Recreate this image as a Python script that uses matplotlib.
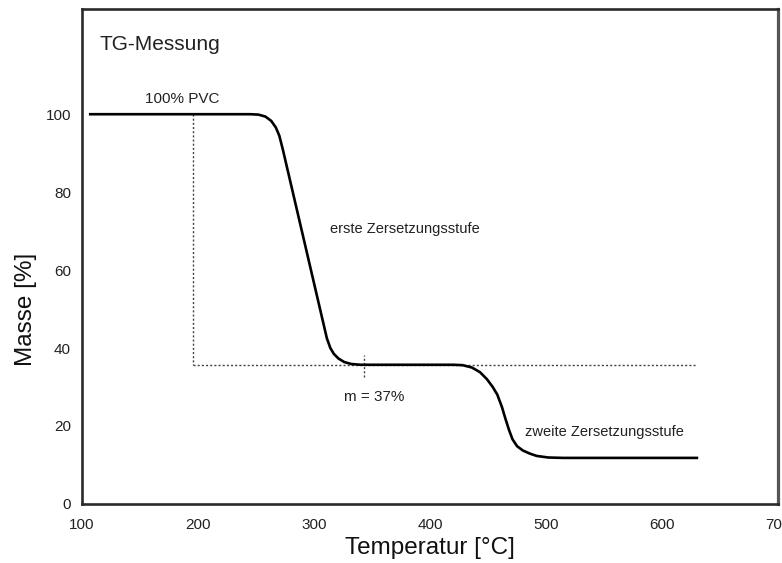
import matplotlib
matplotlib.use('Agg')
import matplotlib.pyplot as plt
from matplotlib import font_manager

# TG curve of PVC
temperatur = [107, 245, 252, 258, 263, 267, 270, 273, 311, 314, 317, 321, 326, 332, 340,
              420, 428, 436, 443, 449, 454, 458, 462, 465, 468, 471, 475, 480, 486, 492, 502, 515, 630]
masse = [100, 100, 99.9, 99.4, 98.3, 96.6, 94.5, 91.0, 42.5, 40.0, 38.5, 37.3, 36.4, 35.9, 35.7,
         35.7, 35.6, 35.0, 33.8, 32.0, 30.0, 28.0, 24.8, 21.8, 19.0, 16.6, 14.8, 13.7, 12.9, 12.3, 11.9, 11.8, 11.8]

# dotted guide lines
start_temp = 196
rest_masse = 35.7
guide_end = 630
marker_temp = 343
marker_span = (32.6, 38.3)

x_ticks = [100, 200, 300, 400, 500, 600, 700]
y_ticks = [0, 20, 40, 60, 80, 100]

names = {f.name for f in font_manager.fontManager.ttflist}
family = 'Liberation Sans' if 'Liberation Sans' in names else 'DejaVu Sans'
plt.rcParams['font.family'] = [family, 'DejaVu Sans']

fig = plt.figure(figsize=(7.82, 5.63), dpi=100)
ax = fig.add_axes([0.105, 0.105, 0.89, 0.879])

ax.plot(temperatur, masse, color='black', lw=1.9, solid_joinstyle='round', zorder=3)

ax.plot([start_temp, start_temp], [100, rest_masse], color='#444444', lw=1, ls=(0, (1.5, 1.5)))
ax.plot([start_temp, guide_end], [rest_masse, rest_masse], color='#444444', lw=1, ls=(0, (1.5, 1.5)))
ax.plot([marker_temp, marker_temp], list(marker_span), color='#444444', lw=1, ls=(0, (1.5, 1.5)))

ax.text(115, 118, 'TG-Messung', fontsize=15, color='#222222', va='center')
ax.text(186, 103.8, '100% PVC', fontsize=11, color='#222222', ha='center', va='center')
ax.text(314, 70.5, 'erste Zersetzungsstufe', fontsize=10.5, color='#222222', va='center')
ax.text(326, 27.5, 'm = 37%', fontsize=11, color='#222222', va='center')
ax.text(482, 18.5, 'zweite Zersetzungsstufe', fontsize=10.5, color='#222222', va='center')

ax.set_xlim(100, 700)
ax.set_ylim(0, 127)
ax.set_xticks(x_ticks)
ax.set_yticks(y_ticks)
ax.tick_params(length=0, labelsize=11, labelcolor='#222222')
ax.tick_params(axis='x', pad=10)
ax.tick_params(axis='y', pad=8)

ax.set_xlabel('Temperatur [°C]', fontsize=17.5, color='#111111', labelpad=4)
ax.set_ylabel('Masse [%]', fontsize=17.5, color='#111111')
ax.yaxis.set_label_coords(-0.065, 0.394)

for side in ['left', 'bottom', 'top']:
    ax.spines[side].set_linewidth(1.9)
    ax.spines[side].set_color('#2a2a2a')
ax.spines['right'].set_linewidth(2.3)
ax.spines['right'].set_color('#555555')

fig.savefig('out.png', dpi=100)
